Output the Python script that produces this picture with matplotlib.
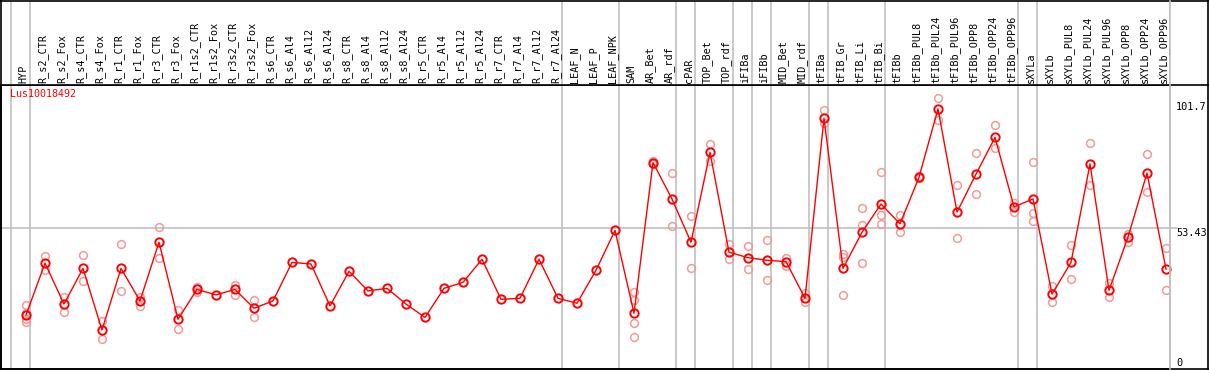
import matplotlib
matplotlib.use("Agg")
import matplotlib.pyplot as plt
from matplotlib.lines import Line2D

gene = "Lus10018492"
categories = ["HYP", "R_s2_CTR", "R_s2_Fox", "R_s4_CTR", "R_s4_Fox", "R_r1_CTR", "R_r1_Fox",
              "R_r3_CTR", "R_r3_Fox", "R_r1s2_CTR", "R_r1s2_Fox", "R_r3s2_CTR", "R_r3s2_Fox",
              "R_s6_CTR", "R_s6_Al4", "R_s6_Al12", "R_s6_Al24", "R_s8_CTR", "R_s8_Al4",
              "R_s8_Al12", "R_s8_Al24", "R_r5_CTR", "R_r5_Al4", "R_r5_Al12", "R_r5_Al24",
              "R_r7_CTR", "R_r7_Al4", "R_r7_Al12", "R_r7_Al24", "LEAF_N", "LEAF_P", "LEAF_NPK",
              "SAM", "AR_Bet", "AR_rdf", "cPAR", "TOP_Bet", "TOP_rdf", "iFIBa", "iFIBb",
              "MID_Bet", "MID_rdf", "tFIBa", "tFIB_Gr", "tFIB_Li", "tFIB_Bi", "tFIBb",
              "tFIBb_PUL8", "tFIBb_PUL24", "tFIBb_PUL96", "tFIBb_OPP8", "tFIBb_OPP24",
              "tFIBb_OPP96", "sXYLa", "sXYLb", "sXYLb_PUL8", "sXYLb_PUL24", "sXYLb_PUL96",
              "sXYLb_OPP8", "sXYLb_OPP24", "sXYLb_OPP96"]

means = [20.2, 40.0, 24.4, 38.0, 14.5, 38.0, 25.6, 48.0, 18.6, 30.0, 27.9, 30.0, 22.8,
         25.6, 40.3, 39.7, 23.7, 36.9, 29.4, 30.4, 24.4, 19.3, 30.4, 32.7, 41.5,
         26.2, 26.6, 41.5, 26.6, 24.7, 37.3, 52.5,
         20.9, 78.4, 64.5, 48.0, 82.3, 44.2, 42.1, 41.1, 40.6, 26.6,
         95.3, 38.0, 51.8, 62.6, 55.0, 72.8, 98.9, 59.5, 74.0, 88.0, 61.5,
         64.5, 28.2, 40.3, 77.9, 29.6, 50.0, 74.4, 37.7]

replicates = [[24.0, 20.9, 18.7, 17.6], [42.7, 37.4], [27.0, 21.2], [43.0, 33.1], [17.9, 10.9],
              [47.3, 29.3], [27.2, 23.8], [53.8, 41.9], [22.1, 14.8], [31.0, 29.0], [],
              [31.7, 28.0], [26.0, 19.6], [], [], [], [], [], [], [], [], [], [], [], [],
              [], [], [], [], [], [], [],
              [29.1, 26.0, 17.1, 11.7], [79.1, 77.9], [74.3, 54.2], [58.0, 38.0], [85.5, 79.1],
              [47.3, 41.5], [46.6, 37.7], [48.9, 33.5], [41.9, 39.1], [28.5, 25.2],
              [98.5, 93.4], [43.5, 42.5, 27.9], [61.1, 54.6, 40.1], [74.7, 58.3, 54.8],
              [58.3, 51.8], [73.2, 72.4], [102.9, 94.7], [69.7, 49.5], [82.1, 66.4],
              [92.7, 83.8], [62.8, 59.7],
              [78.6, 59.2, 56.1], [31.3, 25.2], [46.8, 33.9], [85.8, 69.7], [32.6, 27.0],
              [51.3, 48.2], [81.5, 67.1], [45.7, 29.8]]

group_ends = [-1, 0, 28, 31, 34, 35, 37, 38, 39, 41, 42, 45, 52, 53, 60]
y_ticks = [101.7, 53.43, 0]
y_tick_labels = ["101.7", "53.43", "0"]
y_mid = 53.43

W, H = 1209, 370
fig = plt.figure(figsize=(W / 100, H / 100), dpi=100)

def fx(px):
    return px / W

def fy(py):
    return 1 - py / H

x = list(range(len(categories)))
xlim = (-1.316, 60.21)
k = 280 / (2 * y_mid)
ylo = -(369 - 368) / k
yhi = (368 - 85) / k

ax = fig.add_axes([fx(1), fy(369), fx(1170) - fx(1), fy(85) - fy(369)])
ax.set_xlim(*xlim)
ax.set_ylim(ylo, yhi)
ax.set_xticks([])
ax.set_yticks([])
for s in ["left", "bottom", "top"]:
    ax.spines[s].set_color("black")
    ax.spines[s].set_linewidth(1.2)
ax.spines["right"].set_color("#c0c0c0")
ax.spines["right"].set_linewidth(1.2)

grey = "#c0c0c0"
for g in group_ends:
    ax.axvline(g + 0.21, color=grey, lw=1.2, zorder=1)
ax.axhline(y_mid, color=grey, lw=1.2, zorder=1)

for i, reps in enumerate(replicates):
    if reps:
        ax.plot([i] * len(reps), reps, linestyle="none", marker="o", markersize=5.6,
                markerfacecolor="none", markeredgecolor="#f09a9a", markeredgewidth=1.1,
                zorder=2, clip_on=False)

ax.plot(x, means, color="red", lw=1.0, zorder=3, clip_on=False)
ax.plot(x, means, linestyle="none", marker="o", markersize=6.0, markerfacecolor="none",
        markeredgecolor="red", markeredgewidth=1.4, zorder=4, clip_on=False)

ax.text(fx(9) / (fx(1170) - fx(1)), 1 - 4 / 284, gene, transform=ax.transAxes,
        color="red", fontsize=7.2, family="DejaVu Sans Mono", ha="left", va="top")

hax = fig.add_axes([fx(1), fy(85), fx(1170) - fx(1), fy(1) - fy(85)])
hax.set_xlim(*xlim)
hax.set_ylim(0, 1)
hax.set_xticks([])
hax.set_yticks([])
for s in hax.spines.values():
    s.set_visible(False)
for g in group_ends:
    hax.axvline(g + 0.21, color=grey, lw=1.2, zorder=1)
for i, c in enumerate(categories):
    hax.text(i - 0.13, 2 / 84, c, rotation=90, ha="center", va="bottom",
             fontsize=7.3, family="DejaVu Sans Mono", color="black")

def fline(x0, y0, x1, y1, color="black", lw=1.2):
    fig.add_artist(Line2D([fx(x0), fx(x1)], [fy(y0), fy(y1)], color=color, lw=lw,
                          transform=fig.transFigure))

fline(0, 0.6, 1209, 0.6)
fline(0.6, 0, 0.6, 370)
fline(1208.4, 0, 1208.4, 370)
fline(0, 369.4, 1209, 369.4)
fline(0, 85, 1209, 85)
fline(1170, 1, 1170, 369, color=grey)
fline(1170, 228, 1177, 228, color=grey)

for v, lab in zip(y_ticks, y_tick_labels):
    va = "bottom" if v == 0 else "top"
    ax.text(1 + 6 / 1169, v, lab, transform=ax.get_yaxis_transform(), ha="left", va=va,
            fontsize=7.4, family="DejaVu Sans Mono", color="black", clip_on=False)

fig.savefig("out.png", dpi=100)
